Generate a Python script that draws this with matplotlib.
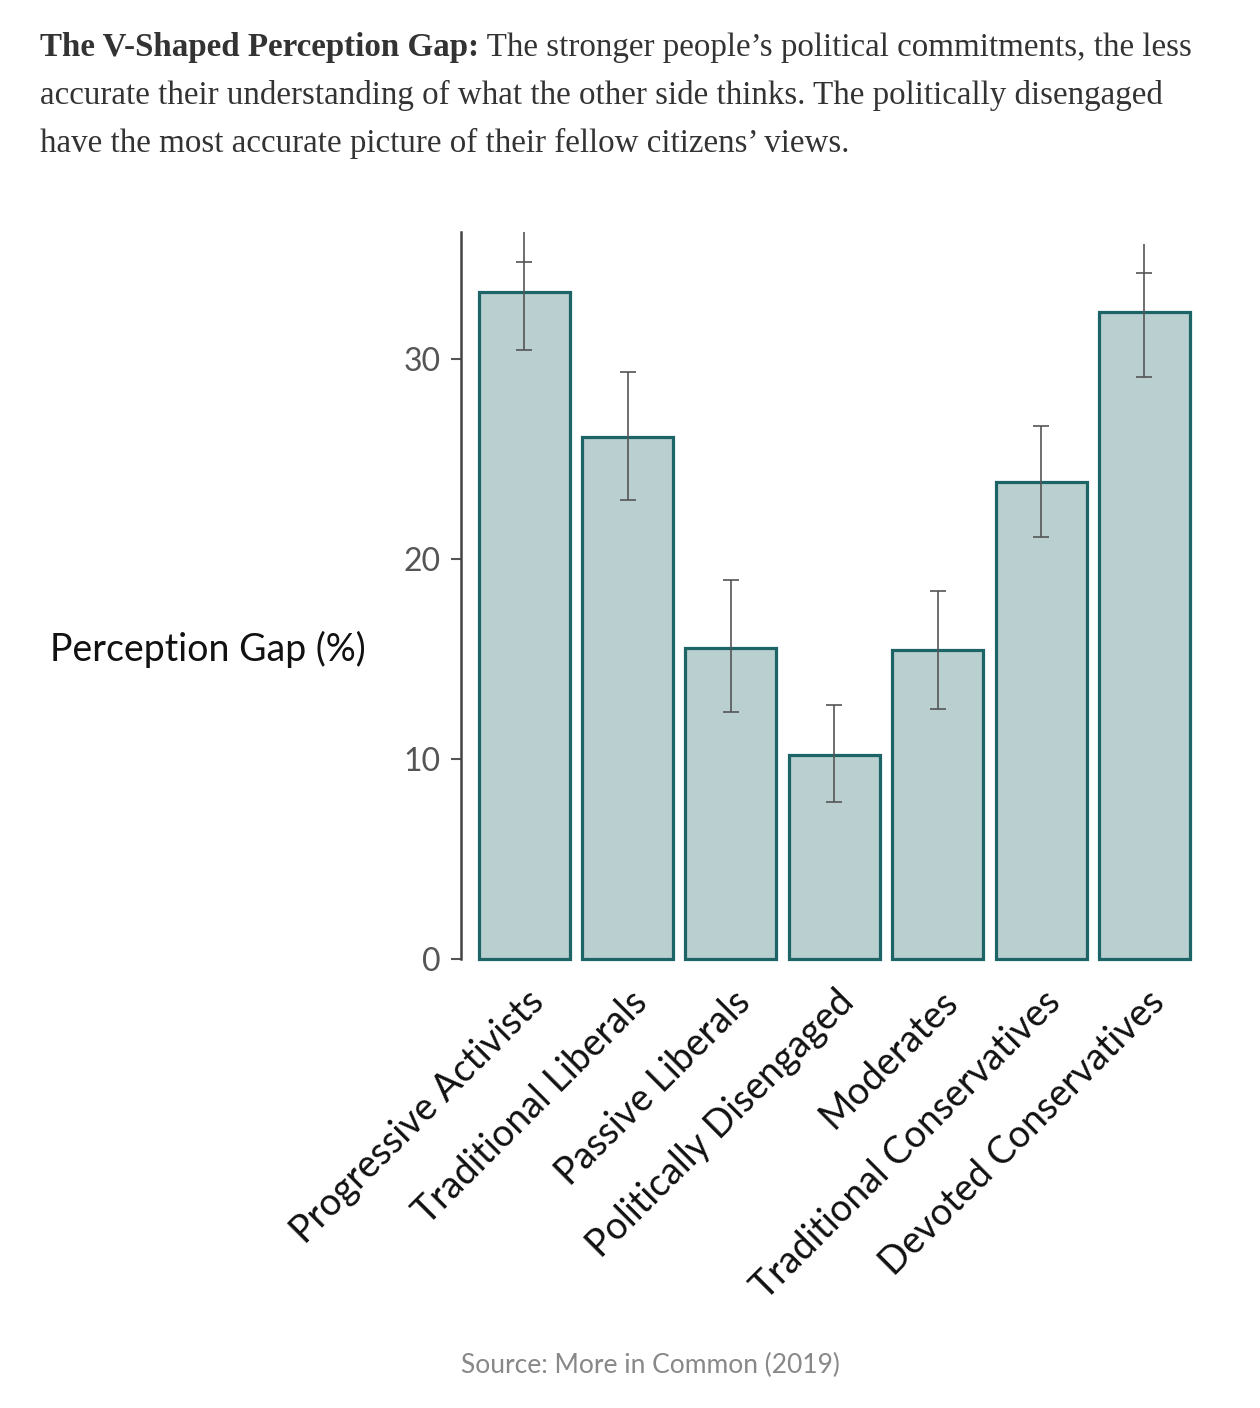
import matplotlib
matplotlib.use("Agg")
from matplotlib import pyplot as plt
from matplotlib import transforms
import numpy as np

# Data
groups = [
    "Progressive Activists",
    "Traditional Liberals",
    "Passive Liberals",
    "Politically Disengaged",
    "Moderates",
    "Traditional Conservatives",
    "Devoted Conservatives",
]
gap = [33.35, 26.1, 15.55, 10.2, 15.45, 23.85, 32.35]
err_low = [30.45, 22.95, 12.35, 7.85, 12.5, 21.1, 29.1]
err_high = [34.85, 29.35, 18.95, 12.7, 18.4, 26.65, 34.3]
# the whisker line runs past the upper cap on the two outer bars
whisker_top = [36.35, 29.35, 18.95, 12.7, 18.4, 26.65, 35.75]

bar_fill = "#b9cfd0"
bar_edge = "#1d6467"
err_color = "#555555"
sans = ["Lato", "DejaVu Sans"]
serif = ["Liberation Serif", "DejaVu Serif"]

fig = plt.figure(figsize=(12.6, 14.08), dpi=100)
ax = fig.add_axes([0.366, 0.319, 0.580, 0.516])

x = np.arange(len(groups))
ax.bar(x, gap, width=0.88, color=bar_fill, edgecolor=bar_edge, linewidth=2.3,
       zorder=2, clip_on=False)

gap_arr = np.array(gap)
yerr = [gap_arr - np.array(err_low), np.array(err_high) - gap_arr]
ax.errorbar(x, gap, yerr=yerr, fmt="none", ecolor=err_color, elinewidth=1.2,
            capsize=5.5, capthick=1.2, zorder=3)
ax.vlines(x, err_high, whisker_top, color=err_color, linewidth=1.2, zorder=3)

ax.set_xlim(-0.61, 6.46)
ax.set_ylim(0, 36.35)
ax.set_yticks([0, 10, 20, 30])
ax.set_xticks(x)
ax.set_xticklabels(groups, rotation=45, ha="right", va="center",
                   rotation_mode="anchor", fontsize=27, family=sans, color="#111111")
ax.tick_params(axis="x", length=0, pad=27)
shift = transforms.ScaledTranslation(14 / 100, 0, fig.dpi_scale_trans)
for lab in ax.get_xticklabels():
    lab.set_transform(lab.get_transform() + shift)
ax.tick_params(axis="y", length=7, width=1.5, color="#555555", labelsize=23,
               labelcolor="#555555", pad=8)
for lab in ax.get_yticklabels():
    lab.set_family(sans)

for side in ["top", "right", "bottom"]:
    ax.spines[side].set_visible(False)
ax.spines["left"].set_color("#444444")
ax.spines["left"].set_linewidth(1.8)

fig.text(0.04, 0.539, "Perception Gap (%)", fontsize=27, family=sans,
         color="#111111", va="center", ha="left")

fig.text(0.516, 0.030, "Source: More in Common (2019)", fontsize=19, family=sans,
         color="#888888", ha="center", va="center")

# Title paragraph: bold lead-in followed by regular text
title_size = 23.8
title_color = "#333333"
lines_y = [0.966, 0.932, 0.898]
bold_part = "The V-Shaped Perception Gap:"
rest_lines = [
    " The stronger people\u2019s political commitments, the less",
    "accurate their understanding of what the other side thinks. The politically disengaged",
    "have the most accurate picture of their fellow citizens\u2019 views.",
]
t0 = fig.text(0.032, lines_y[0], bold_part, fontsize=title_size, family=serif,
              weight="bold", color=title_color, va="center", ha="left")
fig.canvas.draw()
bb = t0.get_window_extent(renderer=fig.canvas.get_renderer())
x_after = bb.x1 / fig.bbox.width
fig.text(x_after, lines_y[0], rest_lines[0], fontsize=title_size, family=serif,
         color=title_color, va="center", ha="left")
for yy, line in zip(lines_y[1:], rest_lines[1:]):
    fig.text(0.032, yy, line, fontsize=title_size, family=serif,
             color=title_color, va="center", ha="left")

fig.savefig("out.png", dpi=100)
